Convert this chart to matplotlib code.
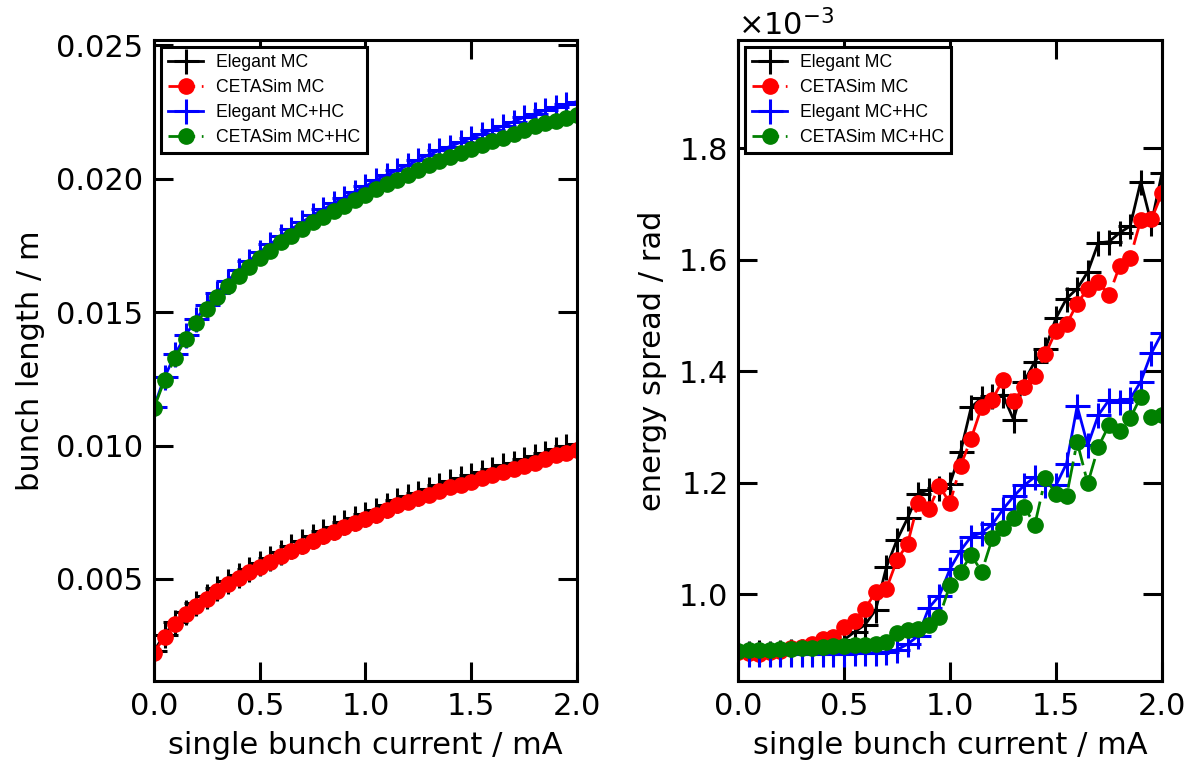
import numpy as np
import matplotlib
matplotlib.use("Agg")
import matplotlib.pyplot as plt

# single bunch current / mA
current = np.round(np.arange(0, 41) * 0.05, 2)

# bunch length / m
len_elegant_mc = [0.00230, 0.00292, 0.00340, 0.00378, 0.00411, 0.00437, 0.00468, 0.00493,
                  0.00516, 0.00538, 0.00560, 0.00580, 0.00602, 0.00622, 0.00641, 0.00660,
                  0.00678, 0.00695, 0.00714, 0.00730, 0.00745, 0.00760, 0.00778, 0.00797,
                  0.00811, 0.00824, 0.00837, 0.00853, 0.00866, 0.00877, 0.00888, 0.00901,
                  0.00913, 0.00926, 0.00936, 0.00948, 0.00961, 0.00973, 0.00988, 0.00997,
                  0.01006]
len_cetasim_mc = [0.00223, 0.00284, 0.00330, 0.00368, 0.00400, 0.00426, 0.00456, 0.00480,
                  0.00503, 0.00525, 0.00546, 0.00565, 0.00587, 0.00606, 0.00625, 0.00643,
                  0.00661, 0.00677, 0.00696, 0.00711, 0.00725, 0.00740, 0.00758, 0.00776,
                  0.00790, 0.00802, 0.00815, 0.00831, 0.00843, 0.00853, 0.00864, 0.00877,
                  0.00889, 0.00902, 0.00912, 0.00923, 0.00936, 0.00948, 0.00964, 0.00973,
                  0.00983]
len_elegant_hc = [0.01145, 0.01255, 0.01342, 0.01413, 0.01474, 0.01528, 0.01573, 0.01618,
                  0.01656, 0.01691, 0.01725, 0.01753, 0.01785, 0.01811, 0.01836, 0.01863,
                  0.01885, 0.01907, 0.01929, 0.01951, 0.01971, 0.01995, 0.02014, 0.02031,
                  0.02050, 0.02070, 0.02089, 0.02106, 0.02120, 0.02136, 0.02153, 0.02167,
                  0.02183, 0.02196, 0.02213, 0.02229, 0.02243, 0.02256, 0.02267, 0.02278,
                  0.02288]
len_cetasim_hc = [0.01140, 0.01245, 0.01329, 0.01398, 0.01458, 0.01511, 0.01555, 0.01599,
                  0.01636, 0.01670, 0.01703, 0.01730, 0.01761, 0.01786, 0.01810, 0.01836,
                  0.01857, 0.01878, 0.01899, 0.01920, 0.01939, 0.01962, 0.01980, 0.01996,
                  0.02014, 0.02033, 0.02051, 0.02067, 0.02080, 0.02095, 0.02111, 0.02124,
                  0.02139, 0.02151, 0.02167, 0.02182, 0.02195, 0.02207, 0.02217, 0.02227,
                  0.02238]

# energy spread / rad (x 1e-3)
es_elegant_mc = [0.897, 0.895, 0.896, 0.895, 0.896, 0.897, 0.898, 0.899, 0.901, 0.905,
                 0.918, 0.932, 0.945, 0.972, 1.048, 1.097, 1.136, 1.180, 1.187, 1.190,
                 1.198, 1.255, 1.335, 1.352, 1.355, 1.357, 1.313, 1.381, 1.417, 1.440,
                 1.495, 1.530, 1.548, 1.578, 1.630, 1.632, 1.648, 1.660, 1.740, 1.665,
                 1.755]
es_cetasim_mc = [0.8965, 0.894, 0.893, 0.8955, 0.898, 0.9025, 0.9055, 0.910, 0.919, 0.923,
                 0.941, 0.952, 0.974, 1.004, 1.009, 1.061, 1.090, 1.164, 1.152, 1.194,
                 1.163, 1.230, 1.279, 1.336, 1.349, 1.384, 1.347, 1.371, 1.392, 1.430,
                 1.472, 1.484, 1.521, 1.548, 1.560, 1.536, 1.588, 1.603, 1.671, 1.672,
                 1.719]
es_elegant_hc = [0.893, 0.892, 0.893, 0.892, 0.893, 0.892, 0.893, 0.892, 0.893, 0.893,
                 0.893, 0.894, 0.894, 0.895, 0.896, 0.900, 0.910, 0.925, 0.975, 0.997,
                 1.045, 1.078, 1.103, 1.110, 1.125, 1.152, 1.175, 1.195, 1.210, 1.195,
                 1.195, 1.234, 1.337, 1.267, 1.321, 1.348, 1.345, 1.350, 1.381, 1.432,
                 1.468]
es_cetasim_hc = [0.898, 0.899, 0.899, 0.900, 0.901, 0.902, 0.903, 0.904, 0.905, 0.906,
                 0.907, 0.908, 0.909, 0.911, 0.914, 0.9295, 0.935, 0.938, 0.944, 0.959,
                 1.016, 1.040, 1.070, 1.040, 1.100, 1.118, 1.136, 1.157, 1.124, 1.2075,
                 1.180, 1.176, 1.273, 1.1985, 1.264, 1.303, 1.292, 1.315, 1.354, 1.318,
                 1.321]

labels = ["Elegant MC", "CETASim MC", "Elegant MC+HC", "CETASim MC+HC"]

plus = dict(marker="+", ms=18, mew=2.2, lw=2.0, ls="-")
dot = dict(marker="o", ms=11, lw=2.0, ls=(0, (9.6, 2.4, 1.5, 2.4)))

fs = 22
fig = plt.figure(figsize=(11.98, 7.72), dpi=100)
ax1 = fig.add_axes([0.1285, 0.1179, 0.3531, 0.8303])
ax2 = fig.add_axes([0.6160, 0.1179, 0.3539, 0.8303])

# left: bunch length
ax1.plot(current, len_elegant_mc, color="black", label=labels[0], **plus)
ax1.plot(current, len_cetasim_mc, color="red", label=labels[1], **dot)
ax1.plot(current, len_elegant_hc, color="blue", label=labels[2], **plus)
ax1.plot(current, len_cetasim_hc, color="green", label=labels[3], **dot)
ax1.set_ylim(0.00118, 0.02519)
ax1.set_yticks([0.005, 0.010, 0.015, 0.020, 0.025])
ax1.set_ylabel("bunch length / m", fontsize=fs, labelpad=8)

# right: energy spread
es = lambda v: np.array(v) * 1e-3
ax2.plot(current, es(es_elegant_mc), color="black", label=labels[0], **plus)
ax2.plot(current, es(es_cetasim_mc), color="red", label=labels[1], **dot)
ax2.plot(current, es(es_elegant_hc), color="blue", label=labels[2], **plus)
ax2.plot(current, es(es_cetasim_hc), color="green", label=labels[3], **dot)
ax2.set_ylim(0.844e-3, 1.994e-3)
ax2.set_yticks(es([1.0, 1.2, 1.4, 1.6, 1.8]))
ax2.ticklabel_format(axis="y", style="sci", scilimits=(0, 0), useMathText=True)
ax2.yaxis.get_offset_text().set_fontsize(fs)
ax2.set_ylabel("energy spread / rad", fontsize=fs, labelpad=8)

for ax in (ax1, ax2):
    ax.set_xlim(0, 2.0)
    ax.set_xticks([0.0, 0.5, 1.0, 1.5, 2.0])
    ax.set_xlabel("single bunch current / mA", fontsize=fs, labelpad=7)
    ax.tick_params(direction="in", length=14, width=2.2, labelsize=fs,
                   top=True, right=True, pad=8)
    for sp in ax.spines.values():
        sp.set_linewidth(2.2)
    leg = ax.legend(loc="upper left", prop={"family": "Liberation Sans", "size": 12.7},
                    fancybox=False, framealpha=1, edgecolor="black",
                    handlelength=2.0, handletextpad=0.7, labelspacing=0.45,
                    borderaxespad=0.4, borderpad=0.4)
    leg.get_frame().set_linewidth(2.2)

fig.savefig("out.png", dpi=100)
